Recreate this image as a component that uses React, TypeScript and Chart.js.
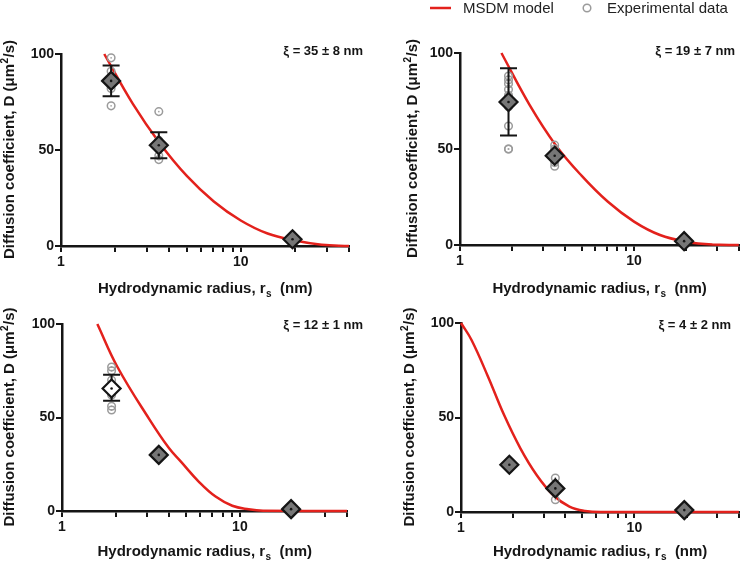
import React, { useEffect, useRef } from 'react';
import { Chart, registerables } from 'chart.js';

Chart.register(...registerables);

const FONT = '"Liberation Sans", Arial, Helvetica, sans-serif';
const RED = '#e3211c';
const INK = '#151515';

// ---- axis ticks / texts ----
const X_TICKS = [1, 2, 3, 4, 5, 6, 7, 8, 9, 10, 20, 30, 40];
const X_TICK_LABELS = [1, 10];
const Y_TICKS = [0, 50, 100];

const X_TITLE = 'Hydrodynamic radius, r';
const X_TITLE_SUB = 's';
const X_TITLE_UNIT = '  (nm)';
const Y_TITLE_A = 'Diffusion coefficient, D (\u03bcm';
const Y_TITLE_SUP = '2';
const Y_TITLE_B = '/s)';
const LEGEND_MODEL = 'MSDM model';
const LEGEND_EXP = 'Experimental data';

const XI_LABELS = ['\u03be = 35 \u00b1 8 nm', '\u03be = 19 \u00b1 7 nm', '\u03be = 12 \u00b1 1 nm', '\u03be = 4 \u00b1 2 nm'];

// probe radii (nm)
const PROBE_X = [1.9, 3.5, 19.4];

// ---- panel A (xi = 35) ----
const MODEL_A_X = [1.74, 2.51, 3.55, 5.01, 7.08, 10, 14.1, 20, 28.2, 40];
const MODEL_A_Y = [100, 74, 53.4, 36.5, 23.2, 13.3, 6.5, 2.9, 0.7, 0];
const MEAN_A_Y = [86, 52.5, 3.5];
const ERR_A_LO = [78, 45.7, null];
const ERR_A_HI = [94, 59.2, null];
const EXP_A_X = [1.9, 1.9, 1.9, 1.9, 1.9, 3.5, 3.5, 3.5, 3.5, 3.5, 19.4, 19.4];
const EXP_A_Y = [98, 91, 86, 82, 73, 70, 55, 51, 47, 45, 3, 4];
const FILL_A = ['#767676', '#767676', '#767676'];

// ---- panel B (xi = 19) ----
const MODEL_B_X = [1.73, 2.51, 3.55, 5.01, 7.08, 10, 14.1, 20, 28.2, 40];
const MODEL_B_Y = [100, 73, 52, 36, 22.5, 12.2, 5.2, 1.7, 0.2, 0];
const MEAN_B_Y = [74.5, 46.5, 2];
const ERR_B_LO = [57, null, null];
const ERR_B_HI = [92, null, null];
const EXP_B_X = [1.9, 1.9, 1.9, 1.9, 1.9, 1.9, 1.9, 1.9, 1.9, 3.5, 3.5, 3.5, 3.5, 3.5, 19.4];
const EXP_B_Y = [88, 86, 84, 81, 78, 72, 62, 50, 50, 52, 50, 47, 43, 41, 2];
const FILL_B = ['#767676', '#767676', '#767676'];

// ---- panel C (xi = 12) ----
const MODEL_C_X = [1.58, 2.05, 3.1, 4.0, 4.66, 5.9, 7.3, 9.06, 11.2, 13.5, 40];
const MODEL_C_Y = [100, 77, 49, 33.5, 26.4, 15.5, 7.7, 2.8, 0.9, 0.1, 0];
const MEAN_C_Y = [65.5, 30, 1];
const ERR_C_LO = [58.9, null, null];
const ERR_C_HI = [72.8, null, null];
const EXP_C_X = [1.9, 1.9, 1.9, 1.9, 1.9, 1.9, 3.5, 19.4];
const EXP_C_Y = [77, 75, 70, 62, 56, 54, 30, 1];
const FILL_C = ['#ffffff', '#767676', '#767676'];

// ---- panel D (xi = 4) ----
const MODEL_D_X = [1, 1.15, 1.43, 1.77, 2.2, 2.73, 3.4, 4.22, 5.2, 6.5, 40];
const MODEL_D_Y = [100, 91, 71.7, 51.4, 33.7, 19.6, 9, 2.8, 0.5, 0, 0];
const MEAN_D_Y = [25, 12.5, 1];
const ERR_D_LO = [null, null, null];
const ERR_D_HI = [null, null, null];
const EXP_D_X = [1.9, 3.5, 3.5, 3.5, 19.4];
const EXP_D_Y = [25, 18, 12, 6.5, 1];
const FILL_D = ['#767676', '#767676', '#767676'];

const PANEL_DATA = [
  { mx: MODEL_A_X, my: MODEL_A_Y, mean: MEAN_A_Y, lo: ERR_A_LO, hi: ERR_A_HI, ex: EXP_A_X, ey: EXP_A_Y, fill: FILL_A, xi: XI_LABELS[0] },
  { mx: MODEL_B_X, my: MODEL_B_Y, mean: MEAN_B_Y, lo: ERR_B_LO, hi: ERR_B_HI, ex: EXP_B_X, ey: EXP_B_Y, fill: FILL_B, xi: XI_LABELS[1] },
  { mx: MODEL_C_X, my: MODEL_C_Y, mean: MEAN_C_Y, lo: ERR_C_LO, hi: ERR_C_HI, ex: EXP_C_X, ey: EXP_C_Y, fill: FILL_C, xi: XI_LABELS[2] },
  { mx: MODEL_D_X, my: MODEL_D_Y, mean: MEAN_D_Y, lo: ERR_D_LO, hi: ERR_D_HI, ex: EXP_D_X, ey: EXP_D_Y, fill: FILL_D, xi: XI_LABELS[3] },
];

// ---- layout (page pixels) ----
const LAYOUT = [
  { left: 0, top: 0, w: 375, h: 300, l: 61, t: 54, r: 349, b: 246, yTitleX: 9, xTitleY: 288, xiX: 363, xiY: 51, legend: false },
  { left: 375, top: 0, w: 375, h: 300, l: 460, t: 53, r: 747, b: 245, yTitleX: 412, xTitleY: 288, xiX: 735, xiY: 51, legend: true },
  { left: 0, top: 280, w: 375, h: 283, l: 62, t: 324, r: 347, b: 511, yTitleX: 9, xTitleY: 551, xiX: 363, xiY: 325, legend: false },
  { left: 375, top: 280, w: 375, h: 283, l: 461, t: 323, r: 744, b: 512, yTitleX: 409, xTitleY: 551, xiX: 731, xiY: 325, legend: false },
];

function Panel({ p, d }: { p: any; d: any }) {
  const ref = useRef<HTMLCanvasElement>(null);

  useEffect(() => {
    const canvas = ref.current!;
    const meanPts = PROBE_X.map((x, i) => ({ x, y: d.mean[i] }));
    const expPts = d.ex.map((x: number, i: number) => ({ x, y: d.ey[i] }));
    const modelPts = d.mx.map((x: number, i: number) => ({ x, y: d.my[i] }));

    const decor = {
      id: 'decor',
      afterDatasetDraw(chart: any, args: any) {
        if (args.index !== 2) return;
        const ctx = chart.ctx;
        const xs = chart.scales.x;
        const ys = chart.scales.y;
        ctx.save();
        ctx.strokeStyle = INK;
        ctx.lineWidth = 2;
        PROBE_X.forEach((xv, i) => {
          const lo = d.lo[i];
          const hi = d.hi[i];
          if (lo == null || hi == null) return;
          const px = xs.getPixelForValue(xv);
          const pl = ys.getPixelForValue(lo);
          const ph = ys.getPixelForValue(hi);
          ctx.beginPath();
          ctx.moveTo(px, pl);
          ctx.lineTo(px, ph);
          ctx.moveTo(px - 8.5, pl);
          ctx.lineTo(px + 8.5, pl);
          ctx.moveTo(px - 8.5, ph);
          ctx.lineTo(px + 8.5, ph);
          ctx.stroke();
        });
        ctx.restore();
      },
      afterDraw(chart: any) {
        const ctx = chart.ctx;
        const area = chart.chartArea;
        ctx.save();
        ctx.fillStyle = INK;
        ctx.textAlign = 'left';
        ctx.textBaseline = 'alphabetic';

        // x title
        ctx.font = `bold 15px ${FONT}`;
        const w1 = ctx.measureText(X_TITLE).width;
        const w3 = ctx.measureText(X_TITLE_UNIT).width;
        ctx.font = `bold 10px ${FONT}`;
        const w2 = ctx.measureText(X_TITLE_SUB).width;
        const cx = (area.left + area.right) / 2;
        let tx = cx - (w1 + w2 + w3) / 2;
        const by = p.xTitleY - p.top + 5;
        ctx.font = `bold 15px ${FONT}`;
        ctx.fillText(X_TITLE, tx, by);
        tx += w1;
        ctx.font = `bold 10px ${FONT}`;
        ctx.fillText(X_TITLE_SUB, tx + 0.5, by + 4);
        tx += w2 + 0.5;
        ctx.font = `bold 15px ${FONT}`;
        ctx.fillText(X_TITLE_UNIT, tx, by);

        // y title (rotated)
        const cy = (area.top + area.bottom) / 2;
        ctx.save();
        ctx.translate(p.yTitleX - p.left, cy);
        ctx.rotate(-Math.PI / 2);
        ctx.font = `bold 15px ${FONT}`;
        const a1 = ctx.measureText(Y_TITLE_A).width;
        const a3 = ctx.measureText(Y_TITLE_B).width;
        ctx.font = `bold 10px ${FONT}`;
        const a2 = ctx.measureText(Y_TITLE_SUP).width;
        let yx = -(a1 + a2 + a3) / 2;
        ctx.font = `bold 15px ${FONT}`;
        ctx.fillText(Y_TITLE_A, yx, 5);
        yx += a1;
        ctx.font = `bold 10px ${FONT}`;
        ctx.fillText(Y_TITLE_SUP, yx + 0.5, -1);
        yx += a2 + 1;
        ctx.font = `bold 15px ${FONT}`;
        ctx.fillText(Y_TITLE_B, yx, 5);
        ctx.restore();

        // xi annotation
        ctx.font = `bold 13px ${FONT}`;
        ctx.textAlign = 'right';
        ctx.textBaseline = 'middle';
        ctx.fillText(d.xi, p.xiX - p.left, p.xiY - p.top);

        // legend
        if (p.legend) {
          const ly = 8;
          ctx.strokeStyle = RED;
          ctx.lineWidth = 2.5;
          ctx.beginPath();
          ctx.moveTo(430 - p.left, ly);
          ctx.lineTo(451 - p.left, ly);
          ctx.stroke();
          ctx.font = `15px ${FONT}`;
          ctx.fillStyle = '#222';
          ctx.textAlign = 'left';
          ctx.textBaseline = 'middle';
          ctx.fillText(LEGEND_MODEL, 463 - p.left, ly + 1);
          ctx.strokeStyle = '#9b9b9b';
          ctx.lineWidth = 1.5;
          ctx.beginPath();
          ctx.arc(587 - p.left, ly, 3.8, 0, Math.PI * 2);
          ctx.stroke();
          ctx.fillText(LEGEND_EXP, 607 - p.left, ly + 1);
        }
        ctx.restore();
      },
    };

    const chart = new Chart(canvas, {
      type: 'scatter',
      data: {
        datasets: [
          {
            label: 'center',
            data: meanPts,
            pointRadius: 1.3,
            pointBackgroundColor: INK,
            pointBorderWidth: 0,
            clip: false,
          } as any,
          {
            label: 'mean',
            data: meanPts,
            pointStyle: 'rectRot',
            pointRadius: 9,
            pointBackgroundColor: d.fill,
            pointBorderColor: INK,
            pointBorderWidth: 2.2,
            clip: false,
          },
          {
            label: LEGEND_EXP,
            data: expPts,
            pointRadius: 3.8,
            pointBackgroundColor: 'rgba(255,255,255,0)',
            pointBorderColor: '#9b9b9b',
            pointBorderWidth: 1.5,
            clip: false,
          },
          {
            label: 'exp-dot',
            data: expPts,
            pointRadius: 0.9,
            pointBackgroundColor: '#a8a8a8',
            pointBorderWidth: 0,
            clip: false,
          },
          {
            label: LEGEND_MODEL,
            data: modelPts,
            showLine: true,
            borderColor: RED,
            borderWidth: 2.5,
            pointRadius: 0,
            tension: 0.4,
            clip: false,
          },
        ],
      },
      options: {
        responsive: false,
        animation: false,
        events: [],
        layout: {
          padding: { left: 0, top: p.t - p.top, right: p.left + p.w - p.r, bottom: 0 },
        },
        plugins: { legend: { display: false }, tooltip: { enabled: false } },
        scales: {
          x: {
            type: 'logarithmic',
            min: 1,
            max: 40,
            afterBuildTicks: (s: any) => {
              s.ticks = X_TICKS.map((v) => ({ value: v }));
            },
            afterFit: (s: any) => {
              s.height = p.top + p.h - p.b;
            },
            grid: { drawOnChartArea: false, drawTicks: true, tickLength: 6, color: INK, lineWidth: 2 },
            border: { display: true, color: INK, width: 2.5 },
            ticks: {
              autoSkip: false,
              maxRotation: 0,
              padding: 2,
              color: INK,
              font: { family: FONT, size: 14, weight: 'bold' },
              callback: (v: any) => (X_TICK_LABELS.includes(Number(v)) ? String(v) : ''),
            },
          },
          y: {
            min: 0,
            max: 100,
            afterBuildTicks: (s: any) => {
              s.ticks = Y_TICKS.map((v) => ({ value: v }));
            },
            afterFit: (s: any) => {
              s.width = p.l - p.left;
            },
            grid: { drawOnChartArea: false, drawTicks: true, tickLength: 6, color: INK, lineWidth: 2 },
            border: { display: true, color: INK, width: 2.5 },
            ticks: {
              padding: 1,
              color: INK,
              font: { family: FONT, size: 14, weight: 'bold' },
            },
          },
        },
      } as any,
      plugins: [decor],
    });
    return () => chart.destroy();
  }, []);

  return (
    <canvas
      ref={ref}
      width={p.w}
      height={p.h}
      style={{ position: 'absolute', left: p.left, top: p.top, width: p.w, height: p.h }}
    />
  );
}

export default function App() {
  return (
    <div style={{ position: 'absolute', left: 0, top: 0, width: 750, height: 563, background: '#fff' }}>
      {LAYOUT.map((p, i) => (
        <Panel key={i} p={p} d={PANEL_DATA[i]} />
      ))}
    </div>
  );
}
